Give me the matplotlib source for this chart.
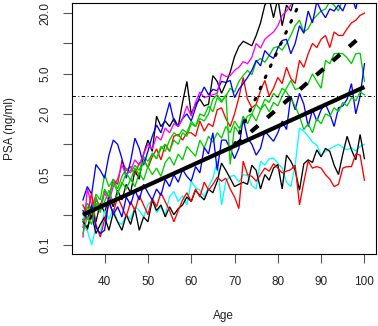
import matplotlib
matplotlib.use("Agg")
import matplotlib.pyplot as plt

plt.rcParams['font.family'] = ['Liberation Sans', 'DejaVu Sans']

ages = list(range(35, 101))

black_hi = [
    0.18, 0.14, 0.22, 0.17, 0.26, 0.21, 0.30, 0.24, 0.35, 0.28, 0.40,
    0.33, 0.55, 0.45, 0.80, 1.1, 0.85, 1.9, 1.5, 1.7, 1.5, 1.8,
    1.5, 2.6, 4.2, 2.0, 2.5, 2.8, 2.4, 2.5, 4.8, 4.2, 3.2,
    4.0, 5.2, 7.4, 9.3, 10.5, 10, 9.5, 12, 16, 24, 28,
    18, 28, 15, 24, 21, 30, 35, 30, 40, 36, 50,
    45, 60, 55, 70, 65, 80, 75, 90, 85, 100, 95]
red_hi = [
    0.15, 0.22, 0.18, 0.28, 0.24, 0.35, 0.30, 0.45, 0.40, 0.69, 0.55,
    0.60, 0.50, 0.65, 0.72, 0.58, 0.75, 0.90, 0.70, 1.0, 0.85, 1.2,
    1.25, 1.1, 1.3, 1.3, 1.2, 1.7, 1.35, 1.6, 1.5, 2.2, 2.3,
    1.8, 1.5, 2.0, 2.9, 4.6, 2.8, 2.3, 2.5, 3.4, 4.3, 3.0,
    3.6, 4.6, 4.0, 5.8, 4.5, 4.0, 6.8, 5.8, 7.9, 10, 9.1,
    11, 12, 9.1, 13, 12, 12, 14, 16, 17, 19, 20]
green_hi = [
    0.20, 0.26, 0.22, 0.32, 0.28, 0.50, 0.38, 0.45, 0.36, 0.48, 0.58,
    0.52, 0.62, 0.55, 0.75, 0.68, 0.80, 0.72, 0.90, 1.0, 0.85, 1.1,
    1.0, 1.3, 1.2, 1.6, 1.5, 1.8, 1.7, 2.0, 2.8, 3.1, 2.7,
    3.0, 3.6, 3.3, 4.2, 4.8, 5.4, 4.9, 6.6, 7.1, 6.5, 7.6,
    9.0, 9.3, 8.6, 10, 12, 15, 17, 13, 14, 17, 19,
    21, 22, 26, 24, 21, 28, 32, 26, 35, 38, 42]
blue_hi = [
    0.28, 0.38, 0.32, 0.63, 0.55, 0.46, 0.78, 1.1, 1.0, 0.72, 0.46,
    0.68, 1.15, 0.91, 0.62, 0.85, 1.2, 1.55, 1.3, 1.8, 2.6, 1.7,
    1.5, 1.8, 2.0, 1.7, 2.3, 3.0, 3.7, 3.1, 3.5, 3.4, 4.2,
    4.1, 4.3, 2.9, 3.5, 4.0, 4.6, 5.4, 6.8, 6.0, 8.5, 7.6,
    7.1, 9.0, 10.7, 11, 7.9, 10, 15, 12.6, 21, 16, 26,
    21, 18, 22, 21, 24, 21, 27, 30, 22, 35, 40]
cyan_lo = [
    0.16, 0.14, 0.10, 0.15, 0.13, 0.22, 0.18, 0.23, 0.17, 0.16, 0.20,
    0.18, 0.24, 0.22, 0.19, 0.25, 0.28, 0.21, 0.24, 0.20, 0.30, 0.34,
    0.27, 0.31, 0.25, 0.43, 0.37, 0.35, 0.30, 0.38, 0.46, 0.68, 0.25,
    0.43, 0.48, 0.49, 0.42, 0.50, 0.49, 0.39, 0.36, 0.68, 0.62, 0.72,
    0.73, 0.65, 0.58, 0.42, 0.38, 0.62, 1.45, 1.35, 1.2, 1.05, 0.98,
    0.78, 0.85, 0.90, 0.95, 1.0, 0.93, 0.88, 0.92, 0.86, 0.95, 1.0]
magenta_hi = [
    0.12, 0.36, 0.25, 0.30, 0.22, 0.33, 0.27, 0.38, 0.45, 0.62, 0.50,
    0.55, 0.70, 0.62, 0.80, 1.0, 0.90, 1.2, 1.1, 1.45, 1.3, 1.6,
    1.5, 1.8, 2.4, 1.9, 2.6, 3.3, 2.9, 3.0, 3.1, 3.2, 5.0,
    4.7, 4.8, 5.4, 5.8, 6.6, 6.3, 7.3, 10, 9.0, 11, 12,
    13, 15, 19, 21, 24, 28, 30, 34, 38, 42, 46,
    50, 55, 60, 66, 72, 78, 85, 92, 100, 110, 120]
black_lo = [
    0.17, 0.15, 0.20, 0.13, 0.16, 0.19, 0.14, 0.21, 0.17, 0.14, 0.20,
    0.16, 0.23, 0.14, 0.19, 0.17, 0.28, 0.22, 0.25, 0.19, 0.24, 0.20,
    0.23, 0.25, 0.30, 0.27, 0.35, 0.31, 0.28, 0.36, 0.33, 0.43, 0.65,
    0.55, 0.46, 0.38, 0.40, 0.42, 0.40, 0.62, 0.55, 0.36, 0.50, 0.44,
    0.58, 0.63, 0.36, 0.78, 0.68, 0.55, 0.35, 0.64, 0.70, 0.66, 0.88,
    0.75, 0.91, 0.85, 0.62, 0.50, 0.80, 1.2, 0.88, 0.70, 1.25, 0.72]
red_lo = [
    0.25, 0.20, 0.33, 0.16, 0.12, 0.18, 0.26, 0.21, 0.30, 0.24, 0.19,
    0.27, 0.22, 0.31, 0.25, 0.20, 0.29, 0.24, 0.33, 0.27, 0.22, 0.17,
    0.22, 0.28, 0.33, 0.27, 0.36, 0.30, 0.42, 0.35, 0.40, 0.47, 0.43,
    0.46, 0.36, 0.30, 0.23, 0.68, 0.50, 0.48, 0.43, 0.50, 0.58, 0.54,
    0.64, 0.58, 0.52, 0.54, 0.56, 0.62, 0.25, 0.42, 0.68, 0.58, 0.60,
    0.58, 0.50, 0.45, 0.38, 0.40, 0.58, 0.60, 0.60, 0.80, 0.78, 0.44]
green_mid = [
    0.17, 0.24, 0.20, 0.30, 0.22, 0.27, 0.35, 0.26, 0.32, 0.42, 0.36,
    0.45, 0.38, 0.52, 0.44, 0.60, 0.50, 0.58, 0.48, 0.66, 0.75, 0.62,
    0.80, 0.70, 0.95, 0.85, 0.76, 1.1, 0.92, 1.2, 1.05, 1.3, 1.15,
    1.5, 1.3, 1.7, 1.45, 1.6, 1.9, 2.0, 1.7, 2.2, 2.5, 2.1,
    2.6, 2.4, 3.0, 3.6, 4.3, 3.5, 3.6, 3.8, 4.0, 5.0, 4.2,
    3.6, 6.8, 6.3, 7.9, 8.0, 7.9, 7.2, 6.3, 7.9, 8.0, 4.2]
blue_mid = [
    0.22, 0.18, 0.25, 0.15, 0.13, 0.14, 0.28, 0.20, 0.24, 0.19, 0.30,
    0.25, 0.35, 0.28, 0.40, 0.33, 0.28, 0.36, 0.31, 0.45, 0.38, 0.50,
    0.42, 0.56, 0.48, 0.43, 0.60, 0.52, 0.93, 0.80, 1.3, 0.55, 1.1,
    1.1, 0.91, 0.72, 0.91, 1.8, 1.15, 1.0, 0.78, 0.91, 1.35, 1.2,
    1.07, 1.3, 1.7, 1.4, 3.0, 2.2, 3.2, 2.5, 1.5, 2.2, 1.7,
    2.2, 2.5, 2.0, 1.5, 2.3, 2.4, 2.8, 4.0, 2.0, 3.0, 6.3]
green_lo = [
    0.13, 0.19, 0.16, 0.26, 0.21, 0.36, 0.30, 0.42, 0.33, 0.40, 0.52,
    0.44, 0.58, 0.50, 0.68, 0.60, 0.82, 0.72, 0.95, 0.85, 1.1, 1.3,
    1.2, 1.4, 1.3, 1.7, 1.5, 2.0, 1.9, 2.4, 2.1, 2.9, 2.6,
    3.1, 0.63, 1.5, 1.3, 1.9, 1.6, 2.0, 2.5, 2.2, 2.8, 2.6,
    3.2, 2.9, 3.6, 3.3, 2.8, 2.4, 1.9, 1.4, 1.6, 1.3, 1.8,
    1.6, 2.0, 1.9, 2.3, 2.1, 2.6, 2.4, 2.9, 2.7, 3.3, 3.1]

series = [black_hi, red_hi, green_hi, blue_hi, cyan_lo, magenta_hi,
          black_lo, red_lo, green_mid, blue_mid, green_lo]
colors = ['black', '#FF0000', '#00CD00', '#0000FF', '#00FFFF', '#FF00FF',
          'black', '#FF0000', '#00CD00', '#0000FF', '#00CD00']

trend_age = [35, 100]
trend_psa = [0.2, 3.7]
dash_age = [70, 100]
dash_psa = [0.96, 12.6]
dot_age = [70, 86]
dot_psa = [1.0, 31]
threshold = 3.0

yticks = [0.1, 0.2, 0.5, 1, 2, 5, 10, 20]
ytick_labels = ['0.1', '', '0.5', '', '2.0', '5.0', '', '20.0']
xticks = [40, 50, 60, 70, 80, 90, 100]

fig = plt.figure(figsize=(3.78, 3.26), dpi=100)
ax = fig.add_axes([71.7/378, 1-254/326, (375.7-71.7)/378, (254-3)/326])

for s, c in zip(series, colors):
    ax.plot(ages, s, color=c, lw=0.95, solid_joinstyle='miter')

ax.plot(trend_age, trend_psa, color='black', lw=3.0, solid_capstyle='butt')
ax.plot(dash_age, dash_psa, color='black', lw=3.0,
        linestyle=(0, (2.3, 2.9)), dash_capstyle='butt')
ax.plot(dot_age, dot_psa, color='black', lw=2.2,
        linestyle=(0, (0.6, 3.4)), dash_capstyle='round')
ax.axhline(threshold, color='black', lw=0.7,
           linestyle=(0, (3.5, 2.5, 1.0, 2.5)))

ax.set_yscale('log')
ax.set_xlim(32.4, 102.6)
ax.set_ylim(0.0815, 25.2)
ax.set_yticks(yticks)
ax.set_yticklabels(ytick_labels, rotation=90, va='center')
ax.minorticks_off()
ax.set_xticks(xticks)
ax.set_xticklabels([str(x) for x in xticks])

ax.tick_params(axis='both', direction='out', length=6.5, width=0.8,
               color='#555555', labelsize=8.5, labelcolor='#222222')
ax.tick_params(axis='x', pad=9)
ax.tick_params(axis='y', pad=8)
for sp in ax.spines.values():
    sp.set_linewidth(0.8)
    sp.set_color('black')

ax.set_xlabel('Age', fontsize=8.5, color='#222222', labelpad=16)
ax.set_ylabel('PSA (ng/ml)', fontsize=8.5, color='#222222', labelpad=17)

fig.savefig('out.png', dpi=100)
